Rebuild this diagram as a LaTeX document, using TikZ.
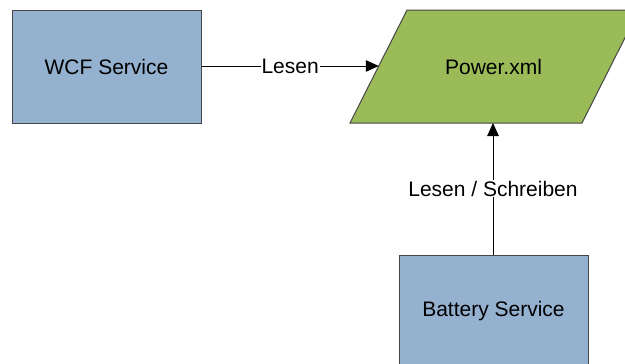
\documentclass[tikz,border=0pt]{standalone}
\usepackage{fontspec}
\setmainfont{Liberation Sans}
\usetikzlibrary{arrows.meta}

\definecolor{serviceblue}{RGB}{149,177,208}
\definecolor{filegreen}{RGB}{155,187,89}
\definecolor{edgegray}{RGB}{70,70,70}

\tikzset{
  service/.style={draw=edgegray, line width=1pt, fill=serviceblue,
    minimum width=189pt, minimum height=113pt, inner sep=0pt,
    font=\fontsize{21}{25}\selectfont},
  datashape/.style={draw=edgegray, line width=1pt, fill=filegreen},
  datatext/.style={inner sep=0pt, font=\fontsize{21}{25}\selectfont},
  flow/.style={draw=black, line width=1pt, -{Triangle[length=13pt,width=11.5pt]}},
  flowlabel/.style={fill=white, inner sep=1pt, font=\fontsize{21}{25}\selectfont}
}

\begin{document}
\begin{tikzpicture}[x=1pt,y=-1pt]
  \useasboundingbox (0,0) rectangle (625,364);

  % parallelogram for the data file
  \path[datashape] (407,10) -- (639,10) -- (582,123) -- (350,123) -- cycle;
  \node[datatext] (power) at (493.5,66.5) {Power.xml};
  \coordinate (powerin) at (378.8,66);
  \coordinate (powerbottom) at (493,123);

  \node[service] (wcf) at (106.5,66.5) {WCF Service};
  \node[service] (battery) at (493.5,311.5) {Battery Service};

  \draw[flow] (wcf.east |- powerin) -- node[flowlabel] {Lesen} (powerin);
  \draw[flow] (battery.north -| powerbottom) -- node[flowlabel] {Lesen / Schreiben} (powerbottom);
\end{tikzpicture}
\end{document}
